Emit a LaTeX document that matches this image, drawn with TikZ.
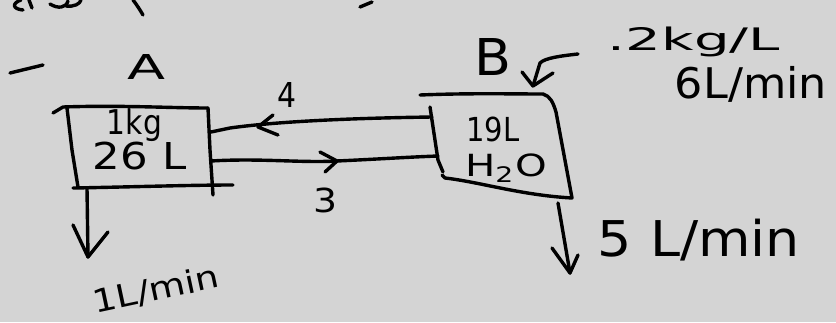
\documentclass[tikz,border=0pt]{standalone}
\usepackage{fontspec}
\usepackage{graphicx}
\setmainfont{DejaVu Sans}
% fit a label into a given width and total height (in pt)
\newcommand\hwfit[3]{\resizebox*{#1pt}{#2pt}{#3}}
\definecolor{paper}{gray}{0.83}
\begin{document}
\begin{tikzpicture}[x=1pt,y=-1pt,
  ink/.style={line width=3.4pt,line cap=round,line join=round,draw=black},
  hw/.style={inner sep=0pt,outer sep=0pt,text=black,anchor=center}]
\fill[paper] (0,0) rectangle (836,322);
\useasboundingbox (0,0) rectangle (836,322);

% strokes of writing cut off by the top edge
\draw[ink] (21,0) .. controls (12,3) and (12,9) .. (23,10);
\draw[ink] (29,0) -- (32,8);
\draw[ink] (50,4) .. controls (58,9) and (66,8) .. (68,1);
\draw[ink] (66,6) .. controls (74,7) and (80,4) .. (81,0);
\draw[ink] (133,0) .. controls (137,5) and (140,10) .. (143,15);
\draw[ink] (360,7) -- (372,2);

% dash at the left
\draw[ink] (10,73) -- (43,65);

% tank A
\coordinate (A1) at (63,107);
\coordinate (A2) at (208,108);
\coordinate (A3) at (213,195);
\coordinate (A4) at (78,187);
\draw[ink] (53,113) -- (A1) .. controls (120,105) and (170,108) .. (A2);
\draw[ink] (67,108) -- (72,150) -- (A4);
\draw[ink] (A2) -- (210,150) -- (A3);
\draw[ink] (73,188) .. controls (130,187) and (190,185) .. (233,185);
\node[hw] (tA) at (147,67) {\hwfit{38}{25}{A}};
\node[hw] (mA) at (134.5,125) {\hwfit{55}{33}{1kg}};
\node[hw] (vA) at (140,156) {\hwfit{94}{28}{26\,\,L}};

% tank B
\coordinate (B1) at (420,95);
\coordinate (B2) at (543,94);
\coordinate (B3) at (572,198);
\coordinate (B4) at (445,178);
\draw[ink] (B1) .. controls (470,93) and (510,94) .. (B2)
  .. controls (550,96) and (553,102) .. (556,112) -- (B3)
  .. controls (520,195) and (480,182) .. (B4) -- (442,175);
\draw[ink] (430,107) -- (438,160) -- (443,172);
\node[hw] (tB) at (493,57) {\hwfit{37}{37}{B}};
\node[hw] (vB) at (493,129) {\hwfit{53}{25}{19L}};
\node[hw] (wB) at (506,168) {\hwfit{82}{28}{H\textsubscript{2}O}};

% pipe 4: from B back to A
\coordinate (p4s) at (432,117);
\coordinate (p4e) at (211,132);
\draw[ink] (p4s) .. controls (360,118) and (280,121) .. (230,128) -- (p4e);
\coordinate (t4) at (258,127);
\draw[ink] (273,115) -- (t4) -- (278,135);
\node[hw] (n4) at (287,95) {\hwfit{19}{25}{4}};

% pipe 3: from A to B
\coordinate (p3s) at (211,161);
\coordinate (p3e) at (438,156);
\draw[ink] (p3s) .. controls (260,158) and (300,163) .. (337,161)
  .. controls (380,159) and (410,157) .. (p3e);
\coordinate (t3) at (337,161);
\draw[ink] (320,152) -- (t3) -- (325,172);
\node[hw] (n3) at (325,200) {\hwfit{24}{25}{3}};

% feed into B
\coordinate (fB) at (578,54);
\coordinate (tipB) at (533,86);
\draw[ink] (fB) .. controls (560,56) and (545,58) .. (540,63) -- (tipB);
\draw[ink] (522,72) -- (tipB) -- (553,73);
\node[hw] (cB) at (694,42) {\hwfit{172}{30}{.2kg/L}};
\node[hw] (qB) at (751,84) {\hwfit{152}{36}{6L/min}};

% outflow from A
\coordinate (oA) at (87,188);
\coordinate (tipA) at (88,257);
\draw[ink] (oA) -- (tipA);
\draw[ink] (73,225) -- (tipA) -- (108,232);
\node[hw,rotate=12] (qA) at (156,290) {\hwfit{128}{27}{1L/min}};

% outflow from B
\coordinate (oB) at (558,203);
\coordinate (tipB2) at (570,273);
\draw[ink] (oB) -- (tipB2);
\draw[ink] (552,248) -- (tipB2) -- (578,255);
\node[hw] (qB2) at (699,240) {\hwfit{202}{42}{5\,\,L/min}};
\end{tikzpicture}
\end{document}
